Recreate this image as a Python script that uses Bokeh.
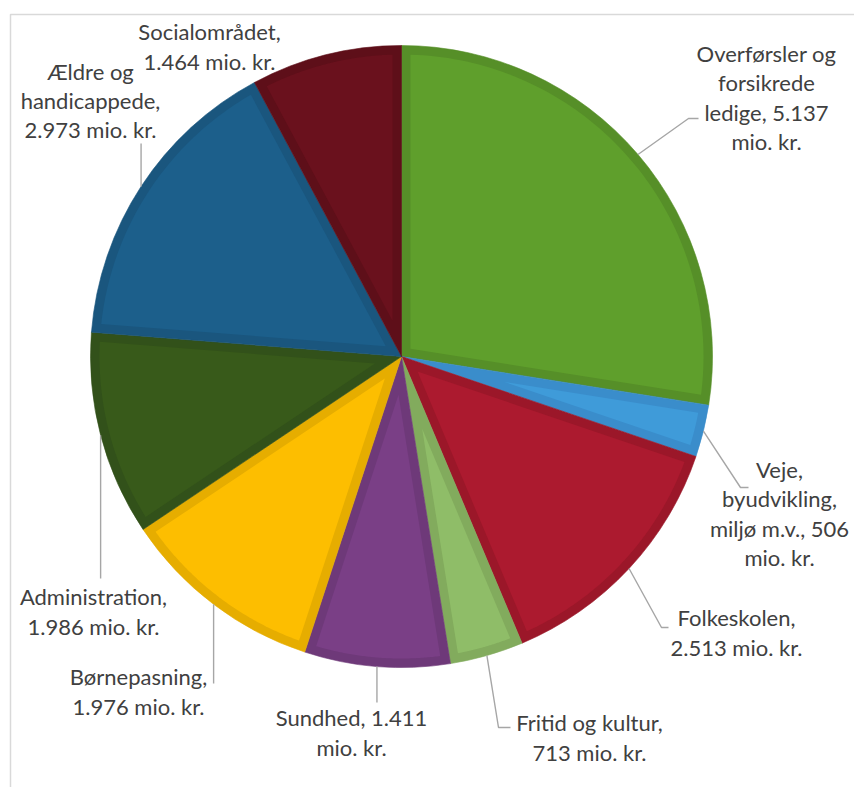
import math
from bokeh.plotting import figure
from bokeh.models import Range1d, ColumnDataSource
from bokeh.core.properties import value
from bokeh.embed import file_html
from bokeh.resources import INLINE

# ---------------- data ----------------
categories = ["Overførsler og forsikrede ledige", "Veje, byudvikling, miljø m.v.",
              "Folkeskolen", "Fritid og kultur", "Sundhed", "Børnepasning",
              "Administration", "Ældre og handicappede", "Socialområdet"]
values = [5137, 506, 2513, 713, 1411, 1976, 1986, 2973, 1464]
label_texts = ["Overførsler og\nforsikrede\nledige, {v}\nmio. kr.",
               "Veje,\nbyudvikling,\nmiljø m.v., {v}\nmio. kr.",
               "Folkeskolen,\n{v} mio. kr.",
               "Fritid og kultur,\n{v} mio. kr.",
               "Sundhed, {v}\nmio. kr.",
               "Børnepasning,\n{v} mio. kr.",
               "Administration,\n{v} mio. kr.",
               "Ældre og\nhandicappede,\n{v} mio. kr.",
               "Socialområdet,\n{v} mio. kr."]
fill_colors = ["#5f9f2c", "#3f9bd9", "#ac1a2f", "#8fbd68", "#7a3f86",
               "#fdbe00", "#385a1a", "#1c5f8b", "#6a111d"]
border_colors = ["#568f28", "#3a8dcb", "#9b1729", "#82ab5d", "#6e3979",
                 "#e6ad00", "#32511a", "#1a567e", "#5e0f19"]

# ---------------- layout (reference pixel coords) ----------------
def Y(py):
    return 787 - py

CX, CY, R, D = 401, Y(356), 311, 9
label_pos = [(766, 97), (779, 513), (736, 632), (589, 737), (351, 732),
             (138, 691), (93, 611), (90, 100), (209, 46)]
leader_tail = [[(688, 118), (698, 118)],
               [(740, 487), (748, 487)],
               [(661, 627), (668, 627)],
               [(498, 727), (510, 727)],
               [(None, 702)],
               [(None, 683)],
               [(None, 578)],
               [(None, 143)],
               None]

W, H = 854, 787
p = figure(width=W, height=H, x_range=Range1d(0, W), y_range=Range1d(787 - H, 787),
           output_backend="svg", toolbar_location=None, min_border=0)
p.axis.visible = False
p.grid.visible = False
p.outline_line_color = None

# chart frame (left + top edges of the chart area)
p.line(x=[10, 10, 900], y=[-50, Y(14), Y(14)], line_color="#d9d9d9", line_width=1.5)

total = float(sum(values))
a0s, a1s = [], []
acc = 0.0
for v in values:
    a0s.append(acc / total * 2 * math.pi)
    acc += v
    a1s.append(acc / total * 2 * math.pi)

# outer wedges (border colour)
src = ColumnDataSource(dict(
    start=[math.pi / 2 - a for a in a0s],
    end=[math.pi / 2 - a for a in a1s],
    fill=border_colors))
p.wedge(x=CX, y=CY, radius=R, start_angle="start", end_angle="end",
        direction="clock", fill_color="fill", line_color="fill",
        line_width=0.6, source=src)

# inner (inset) regions
xs, ys = [], []
for a0, a1 in zip(a0s, a1s):
    th = a1 - a0
    bis = (a0 + a1) / 2
    ar = D / math.sin(th / 2)
    px = [CX + ar * math.sin(bis)]
    py = [CY + ar * math.cos(bis)]
    dl = math.asin(D / (R - D))
    n = 80
    for k in range(n + 1):
        a = a0 + dl + (th - 2 * dl) * k / n
        px.append(CX + (R - D) * math.sin(a))
        py.append(CY + (R - D) * math.cos(a))
    xs.append(px)
    ys.append(py)
p.patches(xs=xs, ys=ys, fill_color=fill_colors, line_color=None)

# leader lines
lx, ly = [], []
for i, tail in enumerate(leader_tail):
    if tail is None:
        continue
    mid = (a0s[i] + a1s[i]) / 2
    sx = CX + R * math.sin(mid)
    sy = CY + R * math.cos(mid)
    xx, yy = [sx], [sy]
    for (tx, ty) in tail:
        xx.append(sx if tx is None else tx)
        yy.append(Y(ty))
    lx.append(xx)
    ly.append(yy)
p.multi_line(xs=lx, ys=ly, line_color="#a6a6a6", line_width=1.4)

# labels
def fmt(v):
    return f"{v:,}".replace(",", ".")

tsrc = ColumnDataSource(dict(
    x=[q[0] for q in label_pos],
    y=[Y(q[1]) for q in label_pos],
    text=[t.format(v=fmt(v)) for t, v in zip(label_texts, values)]))
p.text(x="x", y="y", text="text", source=tsrc, text_font=value("Lato"),
       text_font_size="22px", text_color="#404040", text_align="center",
       text_baseline="middle", text_line_height=1.08)

open("out.html", "w").write(file_html(p, INLINE))
